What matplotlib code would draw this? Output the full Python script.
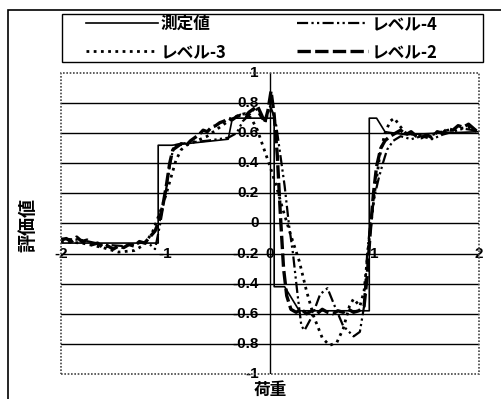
import numpy as np
import matplotlib
matplotlib.use("Agg")
import matplotlib.pyplot as plt
from matplotlib.patches import Rectangle

plt.rcParams['font.family'] = ['Liberation Sans', 'Noto Sans CJK JP', 'DejaVu Sans']
plt.rcParams['axes.unicode_minus'] = False

# 測定値 (step-like thin line)
x_meas = [-2.0, -1.07, -1.07, -0.94, -0.40, -0.36, 0.04, 0.04, 0.14, 0.28, 0.95, 0.95, 1.02, 1.10, 1.30, 1.60, 2.0]
y_meas = [-0.13, -0.13, 0.52, 0.52, 0.56, 0.70, 0.70, -0.42, -0.42, -0.58, -0.58, 0.70, 0.70, 0.61, 0.59, 0.60, 0.61]

# レベル-2 (thick, jagged)
x_lv2 = [-2.00, -1.95, -1.90, -1.85, -1.80, -1.75, -1.70, -1.65, -1.60, -1.55, -1.50, -1.45, -1.40, -1.35,
         -1.30, -1.25, -1.20, -1.15, -1.10, -1.06, -1.02, -0.99, -0.96, -0.93, -0.89, -0.85, -0.80, -0.76,
         -0.72, -0.68, -0.64, -0.60, -0.56, -0.52, -0.48, -0.44, -0.40, -0.36, -0.32, -0.28, -0.24, -0.20,
         -0.16, -0.12, -0.08, -0.05, -0.02, 0.01, 0.04, 0.07, 0.10, 0.13, 0.16, 0.20, 0.25, 0.30, 0.35,
         0.40, 0.45, 0.50, 0.55, 0.60, 0.65, 0.70, 0.75, 0.80, 0.85, 0.90, 0.93, 0.96, 0.99, 1.02, 1.06,
         1.10, 1.15, 1.20, 1.25, 1.30, 1.35, 1.40, 1.45, 1.50, 1.55, 1.60, 1.65, 1.70, 1.75, 1.80, 1.85,
         1.90, 1.95, 2.00]
y_lv2 = [-0.11, -0.10, -0.12, -0.09, -0.12, -0.11, -0.14, -0.13, -0.16, -0.15, -0.17, -0.15, -0.16, -0.14,
         -0.15, -0.12, -0.13, -0.09, -0.05, 0.02, 0.14, 0.26, 0.40, 0.49, 0.51, 0.53, 0.52, 0.55,
         0.57, 0.59, 0.62, 0.61, 0.64, 0.65, 0.67, 0.68, 0.70, 0.69, 0.71, 0.72, 0.71, 0.74,
         0.76, 0.78, 0.72, 0.67, 0.75, 0.88, 0.72, 0.45, 0.05, -0.30, -0.48, -0.57, -0.59, -0.57, -0.60,
         -0.58, -0.60, -0.57, -0.59, -0.60, -0.58, -0.59, -0.57, -0.59, -0.58, -0.55, -0.35, -0.05, 0.20, 0.38, 0.50,
         0.55, 0.58, 0.60, 0.62, 0.59, 0.61, 0.58, 0.57, 0.59, 0.57, 0.61, 0.60, 0.63, 0.62, 0.65, 0.64,
         0.66, 0.63, 0.60]

# レベル-3 (smooth wave)
x_lv3 = [-2.0, -1.8, -1.6, -1.45, -1.3, -1.2, -1.12, -1.05, -1.0, -0.95, -0.9, -0.85, -0.8, -0.7, -0.6,
         -0.5, -0.4, -0.3, -0.24, -0.18, -0.12, -0.06, 0.0, 0.06, 0.12, 0.2, 0.28, 0.35, 0.42, 0.5, 0.57,
         0.64, 0.7, 0.76, 0.8, 0.86, 0.9, 0.95, 1.0, 1.05, 1.1, 1.15, 1.19, 1.24, 1.3, 1.4, 1.5, 1.6, 1.7,
         1.8, 1.9, 2.0]
y_lv3 = [-0.12, -0.13, -0.16, -0.19, -0.18, -0.14, -0.05, 0.08, 0.18, 0.30, 0.42, 0.49, 0.52, 0.55, 0.58,
         0.63, 0.68, 0.72, 0.73, 0.70, 0.62, 0.50, 0.38, 0.25, 0.10, -0.08, -0.25, -0.45, -0.62, -0.76, -0.81,
         -0.79, -0.70, -0.55, -0.50, -0.55, -0.45, -0.10, 0.20, 0.45, 0.60, 0.68, 0.70, 0.65, 0.60, 0.59, 0.58,
         0.60, 0.62, 0.63, 0.64, 0.61]

# レベル-4 (oscillating)
x_lv4 = [-2.0, -1.8, -1.6, -1.4, -1.25, -1.18, -1.1, -1.05, -1.0, -0.96, -0.92, -0.85, -0.75, -0.6, -0.5,
         -0.4, -0.32, -0.26, -0.2, -0.14, -0.08, -0.04, 0.0, 0.03, 0.06, 0.1, 0.14, 0.18, 0.22, 0.26, 0.3,
         0.33, 0.4, 0.48, 0.55, 0.62, 0.7, 0.8, 0.86, 0.9, 0.93, 0.96, 1.0, 1.04, 1.08, 1.12, 1.18, 1.25,
         1.35, 1.45, 1.55, 1.65, 1.75, 1.85, 1.95, 2.0]
y_lv4 = [-0.10, -0.11, -0.14, -0.15, -0.13, -0.12, -0.17, 0.0, 0.20, 0.38, 0.52, 0.53, 0.54, 0.55, 0.56,
         0.57, 0.60, 0.68, 0.72, 0.77, 0.70, 0.68, 0.78, 0.73, 0.65, 0.45, 0.25, 0.0, -0.20, -0.45, -0.68,
         -0.71, -0.62, -0.47, -0.43, -0.55, -0.68, -0.75, -0.72, -0.55, -0.20, 0.0, 0.18, 0.30, 0.40, 0.49,
         0.55, 0.58, 0.56, 0.58, 0.56, 0.59, 0.61, 0.63, 0.62, 0.60]

y_ticks = [-1, -0.8, -0.6, -0.4, -0.2, 0, 0.2, 0.4, 0.6, 0.8, 1]
y_ticklabels = ['-1', '-0.8', '-0.6', '-0.4', '-0.2', '0', '0.2', '0.4', '0.6', '0.8', '1']
x_ticks = [-2, -1, 0, 1, 2]
x_ticklabels = ['-2', '-1', '0', '1', '2']

fig = plt.figure(figsize=(5.01, 3.99), dpi=100)
ax = fig.add_axes([61 / 501, 1 - 374 / 399, 418 / 501, 301 / 399])
ax.set_xlim(-2, 2)
ax.set_ylim(-1, 1)

# grid lines
for yv in y_ticks[1:-1]:
    ax.axhline(yv, color='black', lw=1.0, zorder=1)
ax.axvline(0, color='black', lw=1.0, zorder=1)

# dotted plot-area border
ax.add_patch(Rectangle((0, 0), 1, 1, transform=ax.transAxes, fill=False,
                       ec='#444444', lw=1.2, ls=(0, (1, 1)), clip_on=False, zorder=3))
for s in ax.spines.values():
    s.set_visible(False)
ax.set_xticks([])
ax.set_yticks([])

# axis tick labels (x labels sit on the -0.2 line, y labels beside the x=0 axis)
for xv, lab in zip(x_ticks, x_ticklabels):
    ax.text(xv, -0.2, lab, ha='center', va='center', fontsize=11, fontweight='bold', zorder=1.5)
for yv, lab in zip(y_ticks, y_ticklabels):
    ax.text(-0.11, yv, lab, ha='right', va='center', fontsize=11, fontweight='bold', zorder=1.5)

l1, = ax.plot(x_meas, y_meas, color='black', lw=1.2, ls='-', label='測定値')
l4, = ax.plot(x_lv4, y_lv4, color='black', lw=1.6, ls=(0, (5, 1.5, 1, 1.5, 1, 1.5)), label='レベル-4')
l3, = ax.plot(x_lv3, y_lv3, color='black', lw=2.0, ls=(0, (1, 1.6)), label='レベル-3')
l2, = ax.plot(x_lv2, y_lv2, color='black', lw=2.4, ls=(0, (4, 1.3)), label='レベル-2')

leg = fig.legend(handles=[l1, l3, l4, l2], ncol=2, loc='upper left',
                 bbox_to_anchor=(86 / 501, 1 - 15 / 399), frameon=False, handlelength=4.3,
                 prop={'family': ['Noto Sans CJK JP'], 'size': 12, 'weight': 'bold'},
                 borderpad=0, borderaxespad=0, labelspacing=0.6, handletextpad=0.2,
                 columnspacing=4.2)

# legend frame
fig.add_artist(Rectangle((62 / 501, 1 - 62 / 399), 421 / 501, 48 / 399, transform=fig.transFigure,
                         fill=False, ec='black', lw=1.0))

# outer frame
fig.add_artist(Rectangle((8 / 501, -0.1), 1.2, 1.1 - 10 / 399, transform=fig.transFigure,
                         fill=False, ec='black', lw=1.2))

fig.text(28 / 501, 1 - 225 / 399, '評価値', rotation=90, ha='center', va='center',
         fontsize=13, fontweight='bold', family=['Noto Sans CJK JP'])
fig.text(270 / 501, 1 - 390 / 399, '荷重', ha='center', va='center',
         fontsize=12, fontweight='bold', family=['Noto Sans CJK JP'])

fig.savefig('out.png', dpi=100)
